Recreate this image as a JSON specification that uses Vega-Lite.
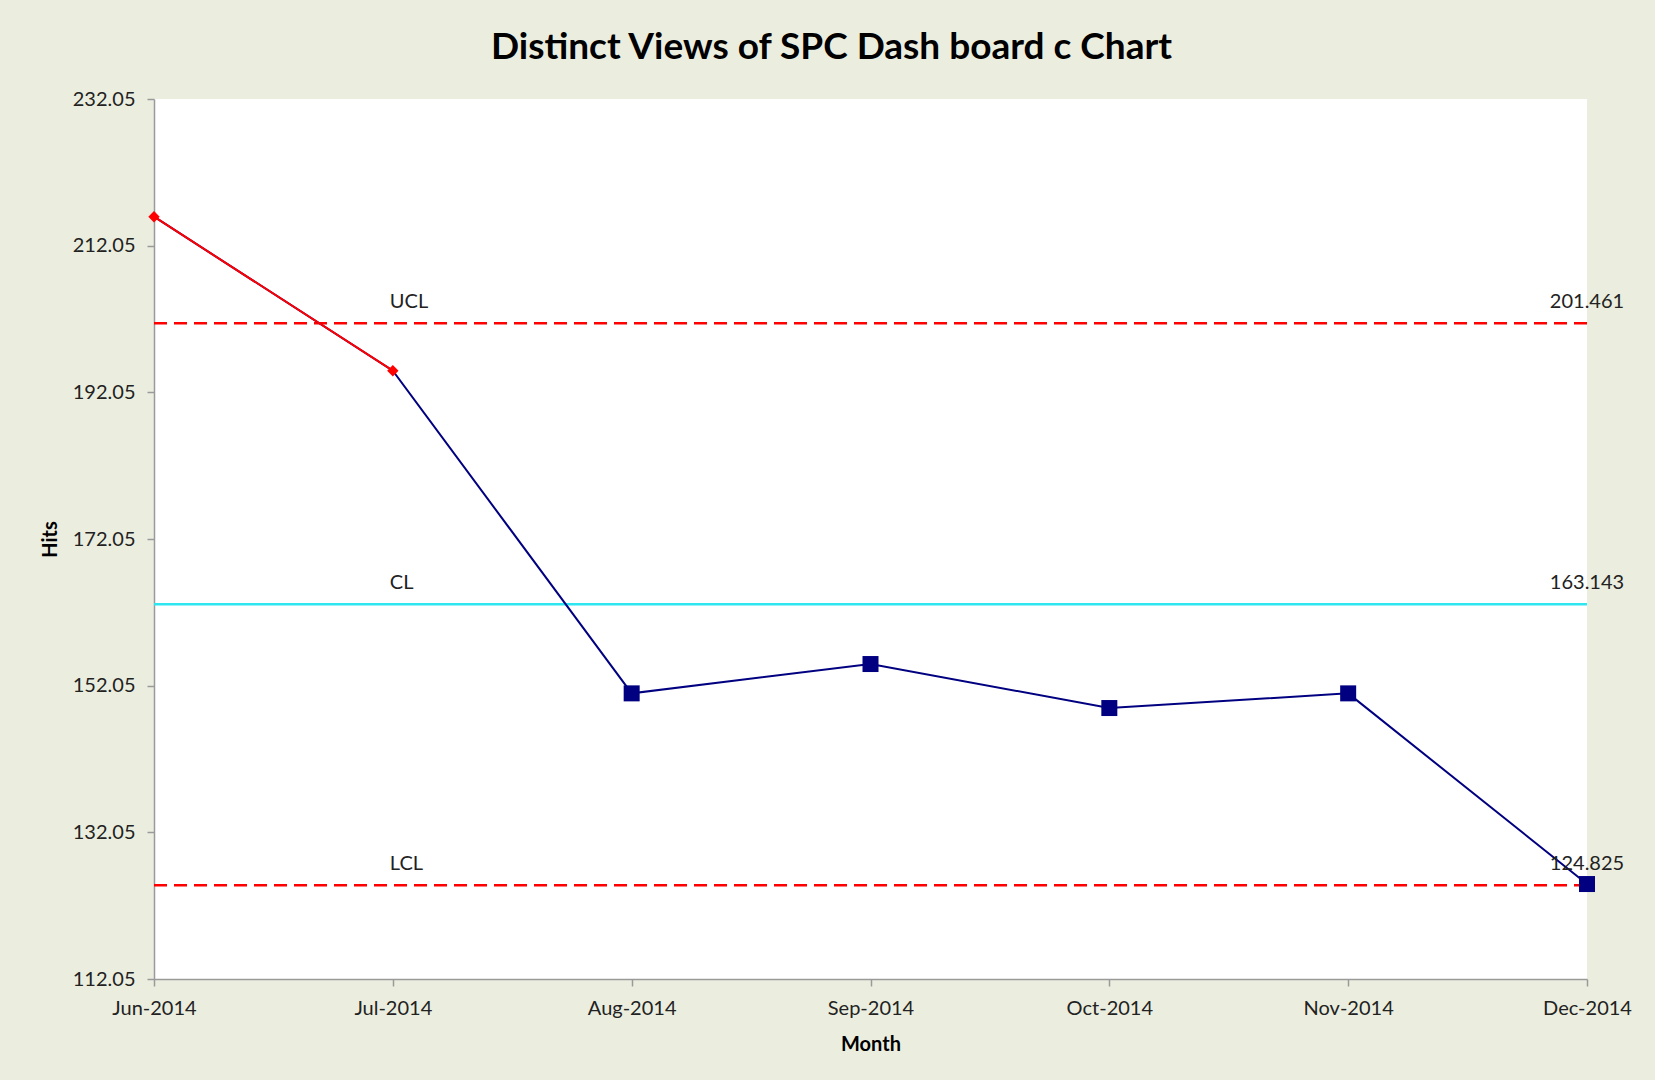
{
  "$schema": "https://vega.github.io/schema/vega-lite/v6.json",
  "width": 1433,
  "height": 880,
  "autosize": {"type": "none"},
  "padding": {"left": 154, "top": 99, "right": 68, "bottom": 101},
  "background": "#EBEEDF",
  "config": {
    "view": {"fill": "white", "stroke": null},
    "font": "Lato",
    "axis": {
      "labelFont": "Lato", "labelFontSize": 20, "labelColor": "#222222",
      "titleFont": "Lato", "titleFontSize": 20, "titleFontWeight": "bold", "titleColor": "#000000",
      "domainColor": "#9A9A9A", "domainWidth": 1.5, "tickColor": "#9A9A9A", "tickWidth": 1.5, "tickSize": 7,
      "grid": false
    }
  },
  "title": {
    "text": "Distinct Views of SPC Dash board c Chart",
    "font": "Lato", "fontSize": 37, "fontWeight": "bold", "color": "#000000",
    "anchor": "middle", "frame": "group", "dx": -39, "offset": 22
  },
  "datasets": {
    "obs": [
      {"month": "Jun-2014", "hits": 216, "flag": "red"},
      {"month": "Jul-2014", "hits": 195, "flag": "red"},
      {"month": "Aug-2014", "hits": 151, "flag": "navy"},
      {"month": "Sep-2014", "hits": 155, "flag": "navy"},
      {"month": "Oct-2014", "hits": 149, "flag": "navy"},
      {"month": "Nov-2014", "hits": 151, "flag": "navy"},
      {"month": "Dec-2014", "hits": 125, "flag": "navy"}
    ],
    "limits": [
      {"limit": "UCL", "value": 201.461},
      {"limit": "CL", "value": 163.143},
      {"limit": "LCL", "value": 124.825}
    ]
  },
  "layer": [
    {
      "data": {"name": "limits"},
      "mark": {"type": "rule", "strokeWidth": 2.5},
      "encoding": {
        "y": {"field": "value", "type": "quantitative", "title": "Hits",
          "scale": {"domain": [112.05, 232.05], "nice": false, "zero": false},
          "axis": {"values": [112.05, 132.05, 152.05, 172.05, 192.05, 212.05, 232.05], "format": ".2f", "labelPadding": 12, "titlePadding": 12}},
        "color": {"field": "limit", "type": "nominal", "legend": null,
          "scale": {"domain": ["UCL", "CL", "LCL"], "range": ["#FF0000", "#2EE6F0", "#FF0000"]}},
        "strokeDash": {"field": "limit", "type": "nominal", "legend": null,
          "scale": {"domain": ["UCL", "CL", "LCL"], "range": [[13, 7], [1, 0], [13, 7]]}}
      }
    },
    {
      "data": {"name": "obs"},
      "mark": {"type": "line", "color": "#000080", "strokeWidth": 2},
      "encoding": {
        "x": {"field": "month", "type": "ordinal", "title": "Month",
          "sort": ["Jun-2014", "Jul-2014", "Aug-2014", "Sep-2014", "Oct-2014", "Nov-2014", "Dec-2014"],
          "scale": {"type": "point", "padding": 0},
          "axis": {"labelAngle": 0, "labelPadding": 12, "titlePadding": 16}},
        "y": {"field": "hits", "type": "quantitative", "title": "Hits", "scale": {"domain": [112.05, 232.05], "nice": false, "zero": false}}
      }
    },
    {
      "data": {"name": "obs"},
      "transform": [{"filter": "datum.flag === 'red'"}],
      "mark": {"type": "line", "color": "#FF0000", "strokeWidth": 2},
      "encoding": {
        "x": {"field": "month", "type": "ordinal", "sort": ["Jun-2014", "Jul-2014", "Aug-2014", "Sep-2014", "Oct-2014", "Nov-2014", "Dec-2014"]},
        "y": {"field": "hits", "type": "quantitative", "title": "Hits"}
      }
    },
    {
      "data": {"name": "obs"},
      "transform": [{"filter": "datum.flag === 'red'"}],
      "mark": {"type": "point", "shape": "diamond", "filled": true, "color": "#FF0000", "size": 130, "opacity": 1},
      "encoding": {
        "x": {"field": "month", "type": "ordinal", "sort": ["Jun-2014", "Jul-2014", "Aug-2014", "Sep-2014", "Oct-2014", "Nov-2014", "Dec-2014"]},
        "y": {"field": "hits", "type": "quantitative", "title": "Hits"}
      }
    },
    {
      "data": {"name": "obs"},
      "transform": [{"filter": "datum.flag === 'navy'"}],
      "mark": {"type": "point", "shape": "square", "filled": true, "color": "#000080", "size": 256, "opacity": 1},
      "encoding": {
        "x": {"field": "month", "type": "ordinal", "sort": ["Jun-2014", "Jul-2014", "Aug-2014", "Sep-2014", "Oct-2014", "Nov-2014", "Dec-2014"]},
        "y": {"field": "hits", "type": "quantitative", "title": "Hits"}
      }
    },
    {
      "data": {"name": "limits"},
      "mark": {"type": "text", "align": "left", "baseline": "middle", "dx": -3, "dy": -21, "fontSize": 20, "font": "Lato", "color": "#222222"},
      "encoding": {
        "x": {"datum": "Jul-2014", "type": "ordinal"},
        "y": {"field": "value", "type": "quantitative", "title": "Hits"},
        "text": {"field": "limit"}
      }
    },
    {
      "data": {"name": "limits"},
      "mark": {"type": "text", "align": "center", "baseline": "middle", "dy": -21, "fontSize": 20, "font": "Lato", "color": "#222222"},
      "encoding": {
        "x": {"datum": "Dec-2014", "type": "ordinal"},
        "y": {"field": "value", "type": "quantitative", "title": "Hits"},
        "text": {"field": "value", "type": "quantitative", "format": ".3f"}
      }
    }
  ]
}
